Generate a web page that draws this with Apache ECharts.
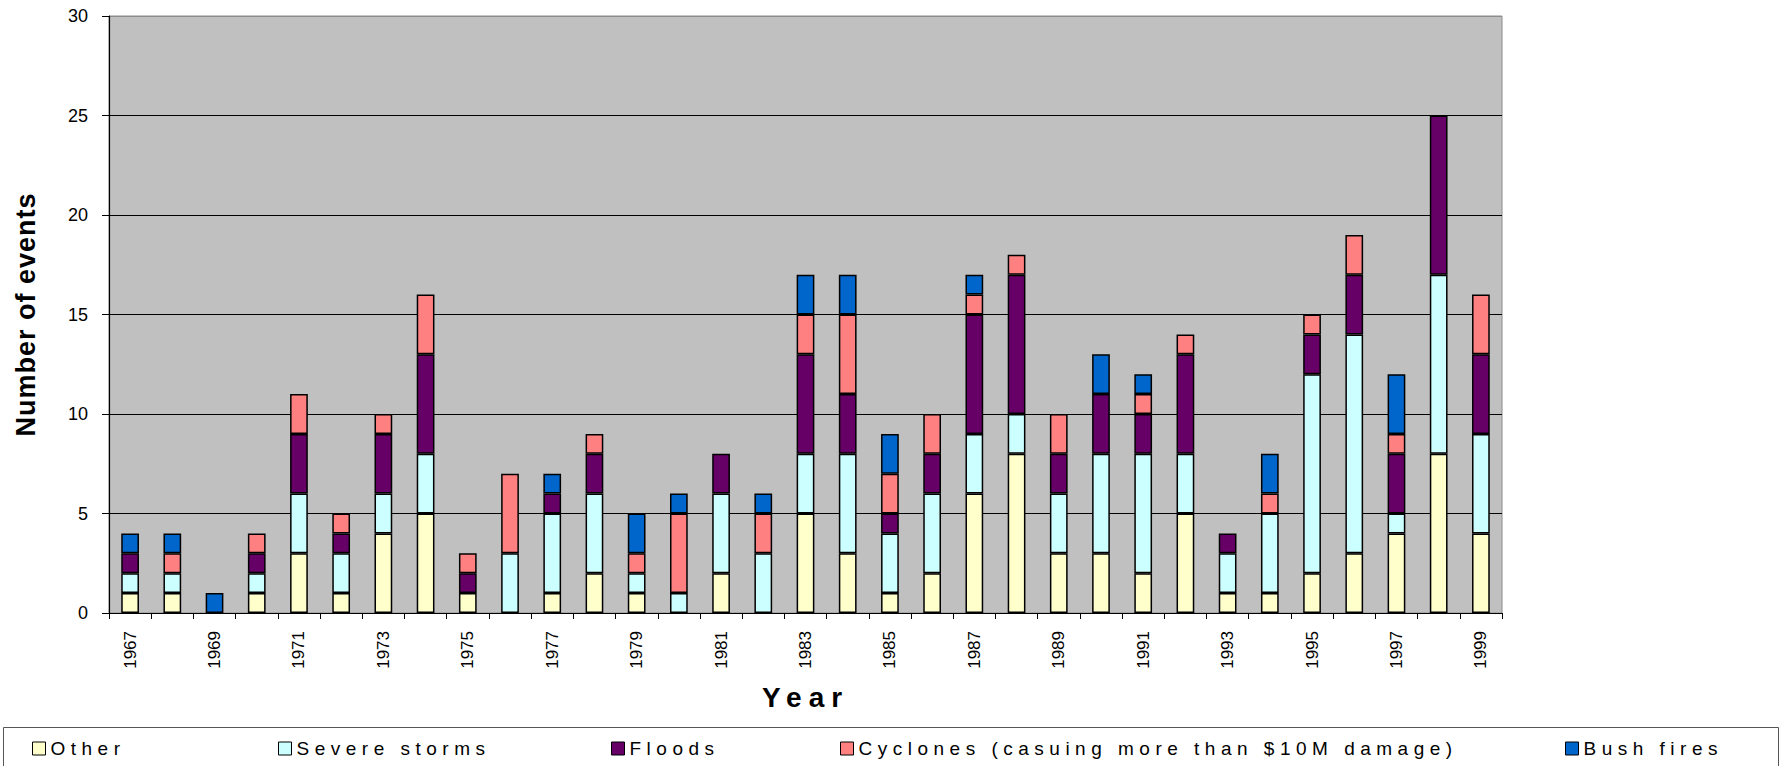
<!DOCTYPE html>
<html>
<head>
<meta charset="utf-8">
<title>Natural disaster events by year, 1967-1999</title>
<script src="https://cdn.jsdelivr.net/npm/echarts@6/dist/echarts.min.js"></script>
<style>
  html, body { margin: 0; padding: 0; background: #ffffff; }
  #chart { width: 1782px; height: 766px; }
  /* widely tracked lettering for the legend and the axis titles */
  #chart text[style*="19px"] { letter-spacing: 5.5px; }
  #chart text[style*="28px"] { letter-spacing: 7px; }
  #chart text[style*="27px"] { letter-spacing: 1px; }
</style>
</head>
<body>
<div id="chart"></div>
<script>
// Event counts per year, stacked bottom to top in this order
const years = ['1967','1968','1969','1970','1971','1972','1973','1974','1975','1976','1977',
  '1978','1979','1980','1981','1982','1983','1984','1985','1986','1987','1988',
  '1989','1990','1991','1992','1993','1994','1995','1996','1997','1998','1999'];

const other     = [1,1,0,1,3,1,4,5,1,0,1,2,1,0,2,0,5,3,1,2,6,8,3,3,2,5,1,1,2,3,4,8,4];
const storms    = [1,1,0,1,3,2,2,3,0,3,4,4,1,1,4,3,3,5,3,4,3,2,3,5,6,3,2,4,10,11,1,9,5];
const floods    = [1,0,0,1,3,1,3,5,1,0,1,2,0,0,2,0,5,3,1,2,6,7,2,3,2,5,1,0,2,3,3,8,4];
const cyclones  = [0,1,0,1,2,1,1,3,1,4,0,1,1,4,0,2,2,4,2,2,1,1,2,0,1,1,0,1,1,2,1,0,3];
const bushfires = [1,1,1,0,0,0,0,0,0,0,1,0,2,1,0,1,2,2,2,0,1,0,0,2,1,0,0,2,0,0,3,0,0];

const seriesNames = ['Other', 'Severe storms', 'Floods',
  'Cyclones (casuing more than $10M damage)', 'Bush fires'];
const seriesColors = ['#FFFFCC', '#CCFFFF', '#660066', '#FF8080', '#0066CC'];
const seriesValues = [other, storms, floods, cyclones, bushfires];

// Left edge of each legend entry
const legendLefts = [32, 278, 611, 840, 1565];

const FONT = 'Liberation Sans, Arial, sans-serif';

const chart = echarts.init(document.getElementById('chart'), null, { renderer: 'svg' });

const series = seriesNames.map((name, i) => ({
  name: name,
  type: 'bar',
  stack: 'events',
  barWidth: '42%',
  itemStyle: { color: seriesColors[i], borderColor: '#000000', borderWidth: 1.5 },
  emphasis: { disabled: true },
  // empty segments are left out so they draw no outline
  data: seriesValues[i].map(v => (v === 0 ? null : v))
}));

const legends = seriesNames.map((name, i) => ({
  data: [name],
  left: legendLefts[i],
  top: 739,
  padding: 0,
  itemWidth: 13,
  itemHeight: 13,
  icon: 'rect',
  itemStyle: { borderColor: '#000000', borderWidth: 1 },
  textStyle: { fontFamily: FONT, fontSize: 19, color: '#000000' },
  selectedMode: false
}));

chart.setOption({
  animation: false,
  backgroundColor: '#ffffff',
  grid: {
    left: 109, right: 280, top: 16, bottom: 153,
    show: true,
    backgroundColor: '#C0C0C0',
    borderColor: '#8c8c8c',
    borderWidth: 1
  },
  legend: legends,
  xAxis: {
    type: 'category',
    data: years,
    boundaryGap: true,
    name: 'Year',
    nameLocation: 'middle',
    nameGap: 70,
    nameTextStyle: { fontFamily: FONT, fontSize: 28, fontWeight: 'bold', color: '#000000' },
    axisLine: { show: true, lineStyle: { color: '#000000', width: 1.2 } },
    axisTick: { show: true, interval: 0, length: 6, lineStyle: { color: '#000000' } },
    axisLabel: {
      interval: 1,
      rotate: 90,
      margin: 18,
      fontFamily: FONT,
      fontSize: 17,
      color: '#000000'
    },
    splitLine: { show: false }
  },
  yAxis: {
    type: 'value',
    min: 0,
    max: 30,
    interval: 5,
    name: 'Number of events',
    nameLocation: 'middle',
    nameGap: 70,
    nameTextStyle: { fontFamily: FONT, fontSize: 27, fontWeight: 'bold', color: '#000000' },
    axisLine: { show: true, lineStyle: { color: '#000000', width: 1.2 } },
    axisTick: { show: true, inside: false, length: 7, lineStyle: { color: '#000000' } },
    axisLabel: { margin: 21, fontFamily: FONT, fontSize: 18, color: '#000000' },
    splitLine: {
      show: true,
      lineStyle: { color: ['#000000','#000000','#000000','#000000','#000000','#000000','#8c8c8c'], width: 1 }
    }
  },
  graphic: [{
    type: 'rect',
    silent: true,
    z: -1,
    shape: { x: 3.5, y: 727.5, width: 1775, height: 60 },
    style: { fill: '#ffffff', stroke: '#555555', lineWidth: 1 }
  }],
  series: series
});
</script>
</body>
</html>
